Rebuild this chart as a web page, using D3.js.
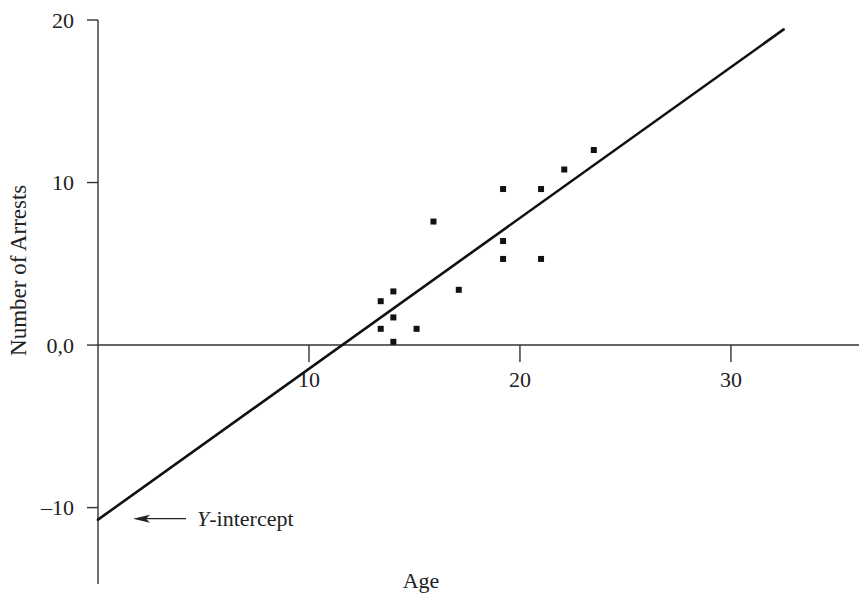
<!DOCTYPE html>
<html>
<head>
<meta charset="utf-8">
<script src="https://cdn.jsdelivr.net/npm/d3@7"></script>
<style>
  body { margin: 0; background: #fff; }
  text { font-family: "Liberation Serif", "DejaVu Serif", serif; fill: #222; }
</style>
</head>
<body>
<div id="chart"></div>
<script>
var w = 859, h = 596;

// data
var ages = [23.5, 22.1, 19.2, 21.0, 15.9, 19.2, 19.2, 21.0, 17.1, 14.0, 13.4, 14.0, 13.4, 15.1, 14.0];
var arrests = [12.0, 10.8, 9.6, 9.6, 7.6, 6.4, 5.3, 5.3, 3.4, 3.3, 2.7, 1.7, 1.0, 1.0, 0.2];
var xTicks = [10, 20, 30];
var yTicks = [20, 10, 0, -10];
var yTickLabels = ["20", "10", "0,0", "\u201310"];
var intercept = -10.74, slope = 0.928, lineEndX = 32.5;

var x = d3.scaleLinear().domain([0, 36.07]).range([98, 859]);
var y = d3.scaleLinear().domain([-14.7, 20]).range([584, 20]);

var svg = d3.select('#chart').append('svg')
  .attr('width', w)
  .attr('height', h);

// x axis along y = 0
svg.append('line')
  .attr('x1', x(0)).attr('x2', x(36.07))
  .attr('y1', y(0)).attr('y2', y(0))
  .attr('stroke', '#333').attr('stroke-width', 1.4);

svg.selectAll('.xtick')
  .data(xTicks)
  .enter().append('line')
  .attr('class', 'xtick')
  .attr('x1', function(d) { return x(d); })
  .attr('x2', function(d) { return x(d); })
  .attr('y1', y(0)).attr('y2', y(0) + 17)
  .attr('stroke', '#333').attr('stroke-width', 1.4);

svg.selectAll('.xlabel')
  .data(xTicks)
  .enter().append('text')
  .attr('class', 'xlabel')
  .attr('x', function(d) { return x(d); })
  .attr('y', y(0) + 42)
  .attr('text-anchor', 'middle')
  .style('font-size', '22px')
  .text(function(d) { return d; });

// y axis
svg.append('line')
  .attr('x1', x(0)).attr('x2', x(0))
  .attr('y1', y(20)).attr('y2', y(-14.7))
  .attr('stroke', '#333').attr('stroke-width', 1.4);

svg.selectAll('.ytick')
  .data(yTicks)
  .enter().append('line')
  .attr('class', 'ytick')
  .attr('x1', x(0) - 11).attr('x2', x(0))
  .attr('y1', function(d) { return y(d); })
  .attr('y2', function(d) { return y(d); })
  .attr('stroke', '#333').attr('stroke-width', 1.4);

svg.selectAll('.ylabel')
  .data(yTicks)
  .enter().append('text')
  .attr('class', 'ylabel')
  .attr('x', x(0) - 24)
  .attr('y', function(d) { return y(d); })
  .attr('dy', '0.35em')
  .attr('text-anchor', 'end')
  .style('font-size', '22px')
  .text(function(d, i) { return yTickLabels[i]; });

// axis titles
svg.append('text')
  .attr('transform', 'translate(26,' + y(4.6) + ') rotate(-90)')
  .attr('text-anchor', 'middle')
  .style('font-size', '23px')
  .text('Number of Arrests');

svg.append('text')
  .attr('x', 421).attr('y', 588)
  .attr('text-anchor', 'middle')
  .style('font-size', '22px')
  .text('Age');

// regression line
svg.append('line')
  .attr('x1', x(0)).attr('y1', y(intercept))
  .attr('x2', x(lineEndX)).attr('y2', y(intercept + slope * lineEndX))
  .attr('stroke', '#111').attr('stroke-width', 2.6)
  .attr('stroke-linecap', 'round');

// points
svg.selectAll('rect.pt')
  .data(ages)
  .enter().append('rect')
  .attr('class', 'pt')
  .attr('x', function(d) { return x(d) - 3; })
  .attr('y', function(d, i) { return y(arrests[i]) - 3; })
  .attr('width', 6).attr('height', 6)
  .attr('fill', '#111');

// y-intercept annotation
var ay = y(intercept) - 1;
svg.append('line')
  .attr('x1', 186).attr('x2', 140)
  .attr('y1', ay).attr('y2', ay)
  .attr('stroke', '#222').attr('stroke-width', 1.3);
svg.append('path')
  .attr('d', 'M133,' + ay + ' L150,' + (ay - 4) + ' L146,' + ay + ' L150,' + (ay + 4) + ' Z')
  .attr('fill', '#222');

var ann = svg.append('text')
  .attr('x', 197).attr('y', ay + 7)
  .style('font-size', '22px');
ann.append('tspan').style('font-style', 'italic').text('Y');
ann.append('tspan').text('-intercept');
</script>
</body>
</html>
